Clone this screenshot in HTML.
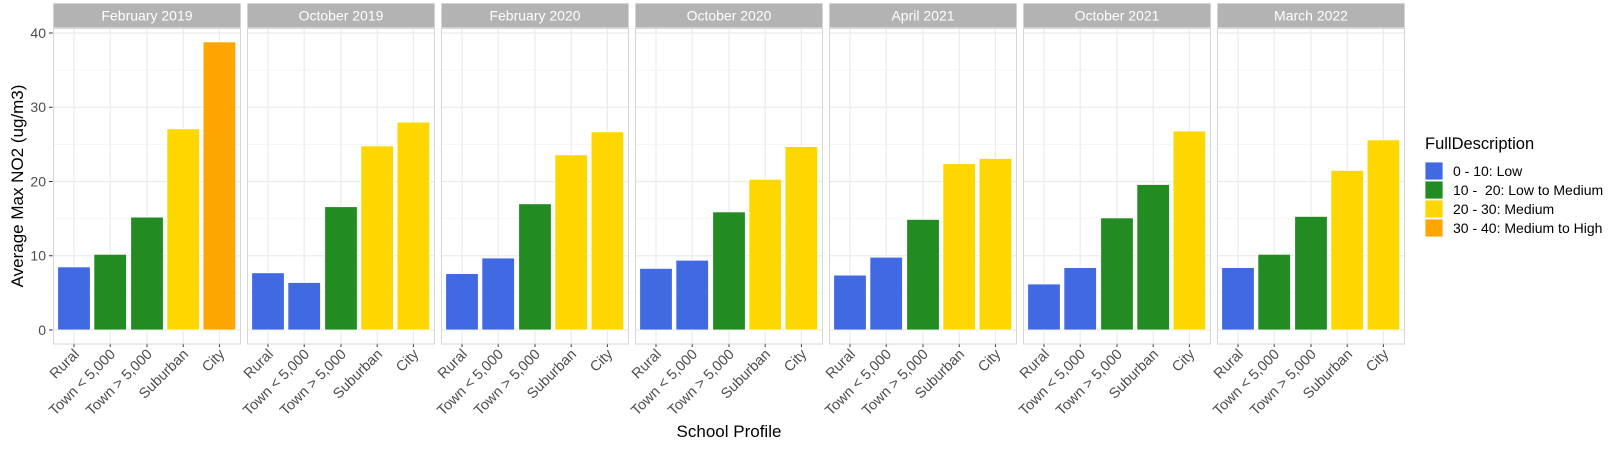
<!DOCTYPE html>
<html><head><meta charset="utf-8"><style>body{margin:0;background:#fff}svg{display:block}</style></head><body>
<svg width="1619" height="453" xmlns="http://www.w3.org/2000/svg" font-family="Liberation Sans, sans-serif">
<defs>
<g id="pbg">
<rect x="0" y="28" width="188" height="316" fill="#fff"/>
<g stroke="#f3f3f3" stroke-width="0.8"><line x1="0" x2="188" y1="292.9" y2="292.9"/><line x1="0" x2="188" y1="218.6" y2="218.6"/><line x1="0" x2="188" y1="144.4" y2="144.4"/><line x1="0" x2="188" y1="70.1" y2="70.1"/></g>
<g stroke="#ebebeb" stroke-width="1.2"><line x1="0" x2="188" y1="330" y2="330"/><line x1="0" x2="188" y1="255.75" y2="255.75"/><line x1="0" x2="188" y1="181.5" y2="181.5"/><line x1="0" x2="188" y1="107.25" y2="107.25"/><line x1="0" x2="188" y1="33" y2="33"/>
<line x1="21" x2="21" y1="28" y2="344"/><line x1="57.2" x2="57.2" y1="28" y2="344"/><line x1="94" x2="94" y1="28" y2="344"/><line x1="130.2" x2="130.2" y1="28" y2="344"/><line x1="166.4" x2="166.4" y1="28" y2="344"/></g>
<g stroke="#333" stroke-width="1"><line x1="21" x2="21" y1="344" y2="347"/><line x1="57.2" x2="57.2" y1="344" y2="347"/><line x1="94" x2="94" y1="344" y2="347"/><line x1="130.2" x2="130.2" y1="344" y2="347"/><line x1="166.4" x2="166.4" y1="344" y2="347"/></g>
<rect x="0" y="3" width="188" height="25" fill="#b3b3b3"/>
</g>
<rect id="pbd" x="0.5" y="28.5" width="187" height="315.5" fill="none" stroke="#cccccc"/>
</defs>

<g font-size="14" fill="#4d4d4d" text-anchor="end">
<text x="46" y="335">0</text><text x="46" y="260.5">10</text><text x="46" y="186.5">20</text><text x="46" y="112">30</text><text x="46" y="38">40</text>
</g>
<g stroke="#333"><line x1="49" x2="53" y1="330" y2="330"/><line x1="49" x2="53" y1="255.75" y2="255.75"/><line x1="49" x2="53" y1="181.5" y2="181.5"/><line x1="49" x2="53" y1="107.25" y2="107.25"/><line x1="49" x2="53" y1="33" y2="33"/></g>
<text transform="translate(23,186) rotate(-90)" text-anchor="middle" font-size="17" fill="#000">Average Max NO2 (ug/m3)</text>
<text x="729" y="437" text-anchor="middle" font-size="17" fill="#000">School Profile</text>

<g stroke="#fff" stroke-width="0.8">
<g transform="translate(53,0)"><use href="#pbg"/>
<rect x="4.7" y="266.9" width="32.6" height="63.1" fill="#4169E1"/><rect x="40.9" y="254.3" width="32.6" height="75.7" fill="#228B22"/><rect x="77.7" y="217.1" width="32.6" height="112.9" fill="#228B22"/><rect x="113.9" y="128.8" width="32.6" height="201.2" fill="#FFD700"/><rect x="150.1" y="41.9" width="32.6" height="288.1" fill="#FFA500"/><use href="#pbd"/></g>
<g transform="translate(247,0)"><use href="#pbg"/>
<rect x="4.7" y="272.8" width="32.6" height="57.2" fill="#4169E1"/><rect x="40.9" y="282.5" width="32.6" height="47.5" fill="#4169E1"/><rect x="77.7" y="206.7" width="32.6" height="123.3" fill="#228B22"/><rect x="113.9" y="145.9" width="32.6" height="184.1" fill="#FFD700"/><rect x="150.1" y="122.1" width="32.6" height="207.9" fill="#FFD700"/><use href="#pbd"/></g>
<g transform="translate(441,0)"><use href="#pbg"/>
<rect x="4.7" y="273.6" width="32.6" height="56.4" fill="#4169E1"/><rect x="40.9" y="258" width="32.6" height="72" fill="#4169E1"/><rect x="77.7" y="203.8" width="32.6" height="126.2" fill="#228B22"/><rect x="113.9" y="154.8" width="32.6" height="175.2" fill="#FFD700"/><rect x="150.1" y="131.8" width="32.6" height="198.2" fill="#FFD700"/><use href="#pbd"/></g>
<g transform="translate(635,0)"><use href="#pbg"/>
<rect x="4.7" y="268.4" width="32.6" height="61.6" fill="#4169E1"/><rect x="40.9" y="260.2" width="32.6" height="69.8" fill="#4169E1"/><rect x="77.7" y="211.9" width="32.6" height="118.1" fill="#228B22"/><rect x="113.9" y="179.3" width="32.6" height="150.7" fill="#FFD700"/><rect x="150.1" y="146.6" width="32.6" height="183.4" fill="#FFD700"/><use href="#pbd"/></g>
<g transform="translate(829,0)"><use href="#pbg"/>
<rect x="4.7" y="275.1" width="32.6" height="54.9" fill="#4169E1"/><rect x="40.9" y="257.2" width="32.6" height="72.8" fill="#4169E1"/><rect x="77.7" y="219.4" width="32.6" height="110.6" fill="#228B22"/><rect x="113.9" y="163.7" width="32.6" height="166.3" fill="#FFD700"/><rect x="150.1" y="158.5" width="32.6" height="171.5" fill="#FFD700"/><use href="#pbd"/></g>
<g transform="translate(1023,0)"><use href="#pbg"/>
<rect x="4.7" y="284" width="32.6" height="46" fill="#4169E1"/><rect x="40.9" y="267.6" width="32.6" height="62.4" fill="#4169E1"/><rect x="77.7" y="217.9" width="32.6" height="112.1" fill="#228B22"/><rect x="113.9" y="184.5" width="32.6" height="145.5" fill="#228B22"/><rect x="150.1" y="131" width="32.6" height="199" fill="#FFD700"/><use href="#pbd"/></g>
<g transform="translate(1217,0)"><use href="#pbg"/>
<rect x="4.7" y="267.6" width="32.6" height="62.4" fill="#4169E1"/><rect x="40.9" y="254.3" width="32.6" height="75.7" fill="#228B22"/><rect x="77.7" y="216.4" width="32.6" height="113.6" fill="#228B22"/><rect x="113.9" y="170.4" width="32.6" height="159.6" fill="#FFD700"/><rect x="150.1" y="139.9" width="32.6" height="190.1" fill="#FFD700"/><use href="#pbd"/></g>
</g>

<g font-size="14" fill="#fff" text-anchor="middle">
<text x="147" y="20.5">February 2019</text><text x="341" y="20.5">October 2019</text><text x="535" y="20.5">February 2020</text><text x="729" y="20.5">October 2020</text><text x="923" y="20.5">April 2021</text><text x="1117" y="20.5">October 2021</text><text x="1311" y="20.5">March 2022</text>
</g>

<g font-size="14.5" fill="#4d4d4d" text-anchor="end">
<g transform="translate(53,0)"><text transform="translate(27,355) rotate(-45)">Rural</text><text transform="translate(63.2,355) rotate(-45)">Town &lt; 5,000</text><text transform="translate(100,355) rotate(-45)">Town &gt; 5,000</text><text transform="translate(136.2,355) rotate(-45)">Suburban</text><text transform="translate(172.4,355) rotate(-45)">City</text></g>
<g transform="translate(247,0)"><text transform="translate(27,355) rotate(-45)">Rural</text><text transform="translate(63.2,355) rotate(-45)">Town &lt; 5,000</text><text transform="translate(100,355) rotate(-45)">Town &gt; 5,000</text><text transform="translate(136.2,355) rotate(-45)">Suburban</text><text transform="translate(172.4,355) rotate(-45)">City</text></g>
<g transform="translate(441,0)"><text transform="translate(27,355) rotate(-45)">Rural</text><text transform="translate(63.2,355) rotate(-45)">Town &lt; 5,000</text><text transform="translate(100,355) rotate(-45)">Town &gt; 5,000</text><text transform="translate(136.2,355) rotate(-45)">Suburban</text><text transform="translate(172.4,355) rotate(-45)">City</text></g>
<g transform="translate(635,0)"><text transform="translate(27,355) rotate(-45)">Rural</text><text transform="translate(63.2,355) rotate(-45)">Town &lt; 5,000</text><text transform="translate(100,355) rotate(-45)">Town &gt; 5,000</text><text transform="translate(136.2,355) rotate(-45)">Suburban</text><text transform="translate(172.4,355) rotate(-45)">City</text></g>
<g transform="translate(829,0)"><text transform="translate(27,355) rotate(-45)">Rural</text><text transform="translate(63.2,355) rotate(-45)">Town &lt; 5,000</text><text transform="translate(100,355) rotate(-45)">Town &gt; 5,000</text><text transform="translate(136.2,355) rotate(-45)">Suburban</text><text transform="translate(172.4,355) rotate(-45)">City</text></g>
<g transform="translate(1023,0)"><text transform="translate(27,355) rotate(-45)">Rural</text><text transform="translate(63.2,355) rotate(-45)">Town &lt; 5,000</text><text transform="translate(100,355) rotate(-45)">Town &gt; 5,000</text><text transform="translate(136.2,355) rotate(-45)">Suburban</text><text transform="translate(172.4,355) rotate(-45)">City</text></g>
<g transform="translate(1217,0)"><text transform="translate(27,355) rotate(-45)">Rural</text><text transform="translate(63.2,355) rotate(-45)">Town &lt; 5,000</text><text transform="translate(100,355) rotate(-45)">Town &gt; 5,000</text><text transform="translate(136.2,355) rotate(-45)">Suburban</text><text transform="translate(172.4,355) rotate(-45)">City</text></g>
</g>

<text x="1425" y="149" font-size="16.5" fill="#000">FullDescription</text>
<g stroke="#fff" stroke-width="0.8">
<rect x="1425" y="162" width="18" height="18" fill="#4169E1"/><rect x="1425" y="181" width="18" height="18" fill="#228B22"/><rect x="1425" y="200" width="18" height="18" fill="#FFD700"/><rect x="1425" y="219" width="18" height="18" fill="#FFA500"/>
</g>
<g font-size="14" fill="#000">
<text x="1453" y="176">0 - 10: Low</text><text x="1453" y="195">10 - &#160;20: Low to Medium</text><text x="1453" y="214">20 - 30: Medium</text><text x="1453" y="233">30 - 40: Medium to High</text>
</g>
</svg>
</body></html>
